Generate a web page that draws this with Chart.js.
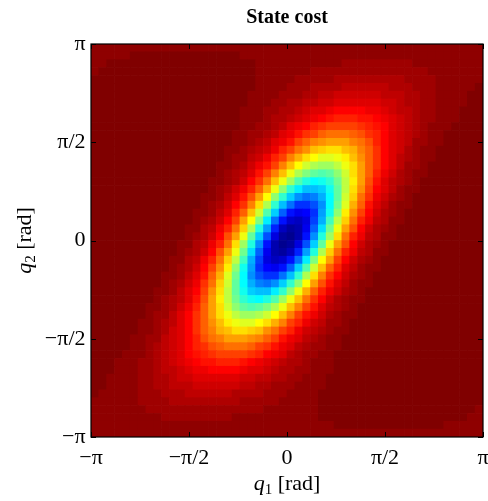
<!DOCTYPE html>
<html>
<head>
<meta charset="utf-8">
<script src="https://cdn.jsdelivr.net/npm/chart.js@4.4.1/dist/chart.umd.min.js"></script>
<style>
html,body{margin:0;padding:0;background:#fff;}
canvas{display:block;}
</style>
</head>
<body>
<canvas id="c" width="488" height="501"></canvas>
<script>
// ---------- data ----------
const chartTitle = 'State cost';
const tickValues = [-Math.PI, -Math.PI / 2, 0, Math.PI / 2, Math.PI];
const tickLabels = ['\u2212\u03c0', '\u2212\u03c0/2', '0', '\u03c0/2', '\u03c0'];
const xLabelParts = ['q', '1', ' [rad]'];
const yLabelParts = ['q', '2', ' [rad]'];

// 50 x 50 grid of colour levels (jet, 0 = minimum cost .. 63 = maximum cost)
// row 0 is the top of the image (q2 = +pi), column 0 is q1 = -pi
const costGrid = [
[62,62,62,62,62,62,62,62,62,62, 62,62,62,62,62,62,62,62,62,62, 62,62,62,62,62,62,62,62,62,62, 62,62,62,62,62,62,62,62,62,62, 62,62,62,62,62,62,62,62,62,62],
[62,62,62,62,62,63,63,63,63,63, 63,63,63,63,63,63,63,63,63,62, 62,62,62,62,62,62,62,62,62,62, 62,62,62,62,62,62,62,62,62,62, 62,62,62,62,62,62,62,62,62,62],
[62,62,63,63,63,63,63,63,63,63, 63,63,63,63,63,63,63,63,63,63, 63,62,62,62,62,62,62,62,62,62, 62,62,61,61,61,61,61,61,61,61, 61,62,62,62,62,62,62,62,62,62],
[62,63,63,63,63,63,63,63,63,63, 63,63,63,63,63,63,63,63,63,63, 63,62,62,62,62,62,62,62,61,61, 61,61,61,61,61,61,61,61,61,61, 61,61,61,62,62,62,62,62,62,62],
[63,63,63,63,63,63,63,63,63,63, 63,63,63,63,63,63,63,63,63,63, 63,62,62,62,62,62,61,61,61,61, 61,60,60,60,60,60,60,60,60,60, 61,61,61,61,62,62,62,62,62,62],
[63,63,63,63,63,63,63,63,63,63, 63,63,63,63,63,63,63,63,63,63, 63,62,62,62,62,61,61,61,60,60, 60,60,59,59,59,59,59,59,60,60, 60,61,61,61,62,62,62,62,62,63],
[63,63,63,63,63,63,63,63,63,63, 63,63,63,63,63,63,63,63,63,63, 62,62,62,62,61,61,61,60,60,59, 59,58,58,58,58,58,58,59,59,59, 60,60,61,61,62,62,62,62,63,63],
[63,63,63,63,63,63,63,63,63,63, 63,63,63,63,63,63,63,63,63,63, 62,62,62,61,61,60,60,59,59,58, 58,57,57,57,57,57,57,58,58,59, 60,60,61,61,62,62,62,62,63,63],
[63,63,63,63,63,63,63,63,63,63, 63,63,63,63,63,63,63,63,63,62, 62,62,61,61,60,60,59,58,57,57, 56,55,55,55,55,56,56,57,58,59, 59,60,61,61,62,62,62,63,63,63],
[63,63,63,63,63,63,63,63,63,63, 63,63,63,63,63,63,63,63,63,62, 62,62,61,60,60,59,58,57,56,55, 54,53,53,53,54,54,55,56,57,58, 59,60,61,61,62,62,62,63,63,63],
[63,63,63,63,63,63,63,63,63,63, 63,63,63,63,63,63,63,63,63,62, 62,61,61,60,59,57,56,55,53,52, 51,51,51,51,52,53,54,55,57,58, 59,60,61,62,62,62,63,63,63,63],
[63,63,63,63,63,63,63,63,63,63, 63,63,63,63,63,63,63,63,62,62, 61,61,60,59,57,56,54,52,51,49, 48,48,48,49,50,52,53,55,57,58, 59,60,61,62,62,63,63,63,63,63],
[63,63,63,63,63,63,63,63,63,63, 63,63,63,63,63,63,63,63,62,62, 61,60,59,57,56,54,51,49,47,46, 45,45,45,47,48,50,53,55,57,58, 59,61,61,62,62,63,63,63,63,63],
[63,63,63,63,63,63,63,63,63,63, 63,63,63,63,63,63,63,62,62,61, 60,59,58,56,53,51,48,46,43,42, 41,41,43,44,47,49,52,55,57,58, 60,61,62,62,63,63,63,63,63,63],
[63,63,63,63,63,63,63,63,63,63, 63,63,63,63,63,63,63,62,61,61, 59,58,56,53,51,47,44,41,39,37, 37,38,40,43,46,49,52,55,57,59, 60,61,62,62,63,63,63,63,63,63],
[63,63,63,63,63,63,63,63,63,63, 63,63,63,63,63,63,62,62,61,60, 58,56,54,51,47,43,39,36,34,33, 33,35,38,41,45,49,52,55,57,59, 61,61,62,63,63,63,63,63,63,63],
[63,63,63,63,63,63,63,63,63,63, 63,63,63,63,63,63,62,61,60,59, 57,54,51,47,43,38,34,31,29,28, 29,32,36,41,45,49,53,56,58,60, 61,62,62,63,63,63,63,63,63,63],
[63,63,63,63,63,63,63,63,63,63, 63,63,63,63,63,62,62,61,60,58, 55,52,48,43,38,33,28,25,23,24, 26,30,35,40,45,50,54,57,59,60, 61,62,63,63,63,63,63,63,63,63],
[63,63,63,63,63,63,63,63,63,63, 63,63,63,63,63,62,61,60,58,56, 53,49,44,38,32,26,22,19,19,20, 24,29,35,41,46,51,55,57,59,61, 62,62,63,63,63,63,63,63,63,63],
[63,63,63,63,63,63,63,63,63,63, 63,63,63,63,62,62,61,59,57,54, 50,45,39,32,26,20,16,14,15,18, 23,29,36,42,48,52,56,58,60,61, 62,63,63,63,63,63,63,63,63,63],
[63,63,63,63,63,63,63,63,63,63, 63,63,63,63,62,61,60,58,55,52, 47,41,34,26,19,14,10,10,12,16, 23,30,37,44,49,54,57,59,61,62, 62,63,63,63,63,63,63,63,63,63],
[63,63,63,63,63,63,63,63,63,63, 63,63,63,62,62,61,59,57,53,49, 43,36,28,20,13,8,6,7,10,17, 24,32,40,46,51,55,58,60,61,62, 63,63,63,63,63,63,63,63,63,63],
[63,63,63,63,63,63,63,63,63,63, 63,63,63,62,61,60,58,55,51,45, 39,31,22,14,8,4,3,5,11,18, 27,35,42,48,53,56,59,60,62,62, 63,63,63,63,63,63,63,63,63,63],
[63,63,63,63,63,63,63,63,63,63, 63,63,62,62,60,59,56,53,48,42, 34,25,17,9,3,1,2,6,13,21, 30,38,45,50,55,58,60,61,62,63, 63,63,63,63,63,63,63,63,63,63],
[63,63,63,63,63,63,63,63,63,63, 63,63,62,61,60,58,55,50,45,38, 29,20,12,5,1,0,2,8,16,25, 33,41,48,53,56,59,60,62,62,63, 63,63,63,63,63,63,63,63,63,63],
[63,63,63,63,63,63,63,63,63,63, 63,62,62,60,59,56,53,48,41,33, 25,16,8,2,0,1,5,12,20,29, 38,45,50,55,58,60,61,62,63,63, 63,63,63,63,63,63,63,63,63,63],
[63,63,63,63,63,63,63,63,63,63, 63,62,61,60,58,55,50,45,38,30, 21,13,6,2,1,3,9,17,25,34, 42,48,53,56,59,60,62,62,63,63, 63,63,63,63,63,63,63,63,63,63],
[63,63,63,63,63,63,63,63,63,63, 62,62,60,59,56,53,48,42,35,27, 18,11,5,3,4,8,14,22,31,39, 45,51,55,58,60,61,62,63,63,63, 63,63,63,63,63,63,63,63,63,63],
[63,63,63,63,63,63,63,63,63,63, 62,61,60,58,55,51,46,40,32,24, 17,10,7,6,8,13,20,28,36,43, 49,53,57,59,61,62,62,63,63,63, 63,63,63,63,63,63,63,63,63,63],
[63,63,63,63,63,63,63,63,63,62, 62,61,59,57,54,49,44,37,30,23, 16,12,10,10,14,19,26,34,41,47, 52,55,58,60,61,62,63,63,63,63, 63,63,63,63,63,63,63,63,63,63],
[63,63,63,63,63,63,63,63,63,62, 61,60,58,56,52,48,42,36,29,23, 18,15,14,16,20,26,32,39,45,50, 54,57,59,61,62,62,63,63,63,63, 63,63,63,63,63,63,63,63,63,63],
[63,63,63,63,63,63,63,63,62,62, 61,59,57,55,51,46,41,35,29,24, 20,19,19,22,26,32,38,44,49,53, 56,58,60,61,62,63,63,63,63,63, 63,63,63,63,63,63,63,63,63,63],
[63,63,63,63,63,63,63,63,62,61, 60,59,57,54,50,45,40,35,30,26, 24,23,25,28,33,38,43,48,52,55, 58,60,61,62,62,63,63,63,63,63, 63,63,63,63,63,63,63,63,63,63],
[63,63,63,63,63,63,63,62,62,61, 60,58,56,53,49,45,41,36,32,29, 28,29,31,34,38,43,47,51,54,57, 59,60,61,62,63,63,63,63,63,63, 63,63,63,63,63,63,63,63,63,63],
[63,63,63,63,63,63,63,62,61,61, 59,57,55,52,49,45,41,38,35,33, 33,34,36,39,43,47,51,54,56,58, 60,61,62,62,63,63,63,63,63,63, 63,63,63,63,63,63,63,63,63,63],
[63,63,63,63,63,63,62,62,61,60, 59,57,55,52,49,46,43,40,38,37, 37,39,41,44,47,51,53,56,58,59, 61,61,62,63,63,63,63,63,63,63, 63,63,63,63,63,63,63,63,63,63],
[63,63,63,63,63,63,62,62,61,60, 58,57,55,52,49,47,44,43,41,41, 42,43,46,48,51,53,56,58,59,60, 61,62,62,63,63,63,63,63,63,63, 63,63,63,63,63,63,63,63,63,63],
[63,63,63,63,63,62,62,61,61,59, 58,57,55,53,50,48,47,45,45,45, 46,47,49,51,54,56,57,59,60,61, 62,62,63,63,63,63,63,63,63,63, 63,63,63,63,63,63,63,63,63,63],
[63,63,63,63,63,62,62,61,60,59, 58,57,55,53,52,50,49,48,48,48, 49,51,52,54,56,57,59,60,61,61, 62,62,63,63,63,63,63,63,63,63, 63,63,63,63,63,63,63,63,63,63],
[63,63,63,63,62,62,62,61,60,59, 58,57,55,54,53,52,51,51,51,51, 52,53,55,56,57,59,60,61,61,62, 62,63,63,63,63,63,63,63,63,63, 63,63,63,63,63,63,63,63,63,63],
[63,63,63,62,62,62,61,61,60,59, 58,57,56,55,54,54,53,53,53,54, 55,56,57,58,59,60,60,61,62,62, 62,63,63,63,63,63,63,63,63,63, 63,63,63,63,63,63,63,63,63,63],
[63,63,63,62,62,62,61,61,60,59, 59,58,57,56,56,55,55,55,55,56, 57,57,58,59,60,60,61,61,62,62, 62,63,63,63,63,63,63,63,63,63, 63,63,63,63,63,63,63,63,63,63],
[63,63,62,62,62,62,61,61,60,60, 59,58,58,57,57,57,57,57,57,58, 58,59,59,60,60,61,61,62,62,62, 63,63,63,63,63,63,63,63,63,63, 63,63,63,63,63,63,63,63,63,63],
[63,63,62,62,62,62,61,61,60,60, 59,59,59,58,58,58,58,58,58,59, 59,60,60,61,61,61,62,62,62,62, 63,63,63,63,63,63,63,63,63,63, 63,63,63,63,63,63,63,63,63,63],
[63,62,62,62,62,62,61,61,61,60, 60,60,59,59,59,59,59,59,60,60, 60,60,61,61,61,62,62,62,62,63, 63,63,63,63,63,63,63,63,63,63, 63,63,63,63,63,63,63,63,63,63],
[62,62,62,62,62,62,61,61,61,61, 60,60,60,60,60,60,60,60,60,61, 61,61,61,61,62,62,62,62,62,63, 63,63,63,63,63,63,63,63,63,63, 63,63,63,63,63,63,63,63,63,63],
[62,62,62,62,62,62,62,61,61,61, 61,61,61,61,61,61,61,61,61,61, 61,61,62,62,62,62,62,62,62,63, 63,63,63,63,63,63,63,63,63,63, 63,63,63,63,63,63,63,63,63,62],
[62,62,62,62,62,62,62,62,62,61, 61,61,61,61,61,61,61,61,62,62, 62,62,62,62,62,62,62,62,62,63, 63,63,63,63,63,63,63,63,63,63, 63,63,63,63,63,63,63,63,62,62],
[62,62,62,62,62,62,62,62,62,62, 62,62,62,62,62,62,62,62,62,62, 62,62,62,62,62,62,62,62,62,62, 62,63,63,63,63,63,63,63,63,63, 63,63,63,63,63,62,62,62,62,62],
[62,62,62,62,62,62,62,62,62,62, 62,62,62,62,62,62,62,62,62,62, 62,62,62,62,62,62,62,62,62,62, 62,62,62,62,62,62,62,62,62,62, 62,62,62,62,62,62,62,62,62,62]
];

// ---------- grid geometry (cell centres of a regular grid over [-pi, pi]) ----------
const nCells = costGrid.length;
const cellStep = 2 * Math.PI / nCells;
const q1Centers = costGrid[0].map((_, c) => -Math.PI + (c + 0.5) * cellStep);
const q2Centers = costGrid.map((_, r) => Math.PI - (r + 0.5) * cellStep);

// MATLAB-style jet colormap with 64 entries
function jetColor(level) {
  const i = level + 1;
  let r, g, b;
  if (i <= 8) { r = 0; g = 0; b = (i + 8) / 16; }
  else if (i <= 24) { r = 0; g = (i - 8) / 16; b = 1; }
  else if (i <= 40) { r = (i - 24) / 16; g = 1; b = 1 - (i - 24) / 16; }
  else if (i <= 56) { r = 1; g = 1 - (i - 40) / 16; b = 0; }
  else { r = 1 - (i - 56) / 16; g = 0; b = 0; }
  return 'rgb(' + Math.round(r * 255) + ',' + Math.round(g * 255) + ',' + Math.round(b * 255) + ')';
}

const points = [];
const colors = [];
costGrid.forEach((row, r) => {
  row.forEach((lvl, c) => {
    points.push({ x: q1Centers[c], y: q2Centers[r] });
    colors.push(jetColor(lvl));
  });
});

const SERIF = '"Liberation Serif", "Times New Roman", "DejaVu Serif", serif';

function cellRadius(ctx) {
  const xs = ctx.chart.scales.x;
  if (!xs) return 4;
  const w = Math.abs(xs.getPixelForValue(cellStep) - xs.getPixelForValue(0));
  return (w + 0.7) / Math.SQRT2;
}

function labelFor(value) {
  const idx = tickValues.findIndex(t => Math.abs(t - value) < 1e-9);
  return idx >= 0 ? tickLabels[idx] : '';
}

function drawMathLabel(ctx, parts, cx, baseline) {
  const fonts = ['italic 22px ' + SERIF, '15px ' + SERIF, '22px ' + SERIF];
  const dys = [0, 4, 0];
  let total = 0;
  const widths = parts.map((t, i) => { ctx.font = fonts[i]; const w = ctx.measureText(t).width; total += w; return w; });
  let x = cx - total / 2;
  parts.forEach((t, i) => {
    ctx.font = fonts[i];
    ctx.fillText(t, x, baseline + dys[i]);
    x += widths[i];
  });
}

const framePlugin = {
  id: 'frameAndLabels',
  afterDatasetsDraw(chart) {
    const { ctx, chartArea: a, scales } = chart;
    const xs = scales.x, ys = scales.y;
    ctx.save();
    ctx.strokeStyle = '#000';
    ctx.lineWidth = 1;
    const tl = 5;
    ctx.beginPath();
    tickValues.forEach(v => {
      const px = Math.round(xs.getPixelForValue(v)) + 0.5;
      ctx.moveTo(px, a.bottom); ctx.lineTo(px, a.bottom - tl);
      ctx.moveTo(px, a.top); ctx.lineTo(px, a.top + tl);
      const py = Math.round(ys.getPixelForValue(v)) + 0.5;
      ctx.moveTo(a.left, py); ctx.lineTo(a.left + tl, py);
      ctx.moveTo(a.right, py); ctx.lineTo(a.right - tl, py);
    });
    ctx.stroke();
    ctx.lineWidth = 1.2;
    ctx.strokeRect(a.left, a.top, a.right - a.left, a.bottom - a.top);
    ctx.restore();
  },
  afterDraw(chart) {
    const { ctx, chartArea: a } = chart;
    ctx.save();
    ctx.fillStyle = '#000';
    ctx.textBaseline = 'alphabetic';
    ctx.textAlign = 'left';
    drawMathLabel(ctx, xLabelParts, (a.left + a.right) / 2, 490);
    ctx.translate(31, (a.top + a.bottom) / 2);
    ctx.rotate(-Math.PI / 2);
    drawMathLabel(ctx, yLabelParts, 0, 0);
    ctx.restore();
  }
};

new Chart(document.getElementById('c'), {
  type: 'scatter',
  data: {
    datasets: [{
      data: points,
      pointStyle: 'rect',
      pointRadius: cellRadius,
      pointHoverRadius: cellRadius,
      pointBackgroundColor: colors,
      pointBorderWidth: 0,
      pointBorderColor: 'rgba(0,0,0,0)',
      borderWidth: 0,
      clip: 0
    }]
  },
  options: {
    responsive: false,
    animation: false,
    events: [],
    layout: { padding: { left: 0, right: 5, top: 0, bottom: 0 } },
    plugins: {
      legend: { display: false },
      tooltip: { enabled: false },
      title: {
        display: true,
        text: chartTitle,
        fullSize: false,
        color: '#000',
        font: { family: SERIF, size: 20, weight: 'bold', lineHeight: 1.2 },
        padding: { top: 6, bottom: 14 }
      }
    },
    scales: {
      x: {
        type: 'linear',
        min: -Math.PI,
        max: Math.PI,
        afterBuildTicks: s => { s.ticks = tickValues.map(v => ({ value: v })); },
        afterFit: s => { s.height = 64; s.paddingLeft = 0; s.paddingRight = 0; },
        ticks: {
          callback: v => labelFor(v),
          autoSkip: false,
          maxRotation: 0,
          minRotation: 0,
          padding: 8,
          color: '#000',
          font: { family: SERIF, size: 22 }
        },
        grid: { display: false, drawTicks: false },
        border: { display: false }
      },
      y: {
        type: 'linear',
        min: -Math.PI,
        max: Math.PI,
        afterBuildTicks: s => { s.ticks = tickValues.map(v => ({ value: v })); },
        afterFit: s => { s.width = 91; s.paddingTop = 0; s.paddingBottom = 0; },
        ticks: {
          callback: v => labelFor(v),
          autoSkip: false,
          padding: 5.5,
          color: '#000',
          font: { family: SERIF, size: 22 }
        },
        grid: { display: false, drawTicks: false },
        border: { display: false }
      }
    }
  },
  plugins: [framePlugin]
});
</script>
</body>
</html>
